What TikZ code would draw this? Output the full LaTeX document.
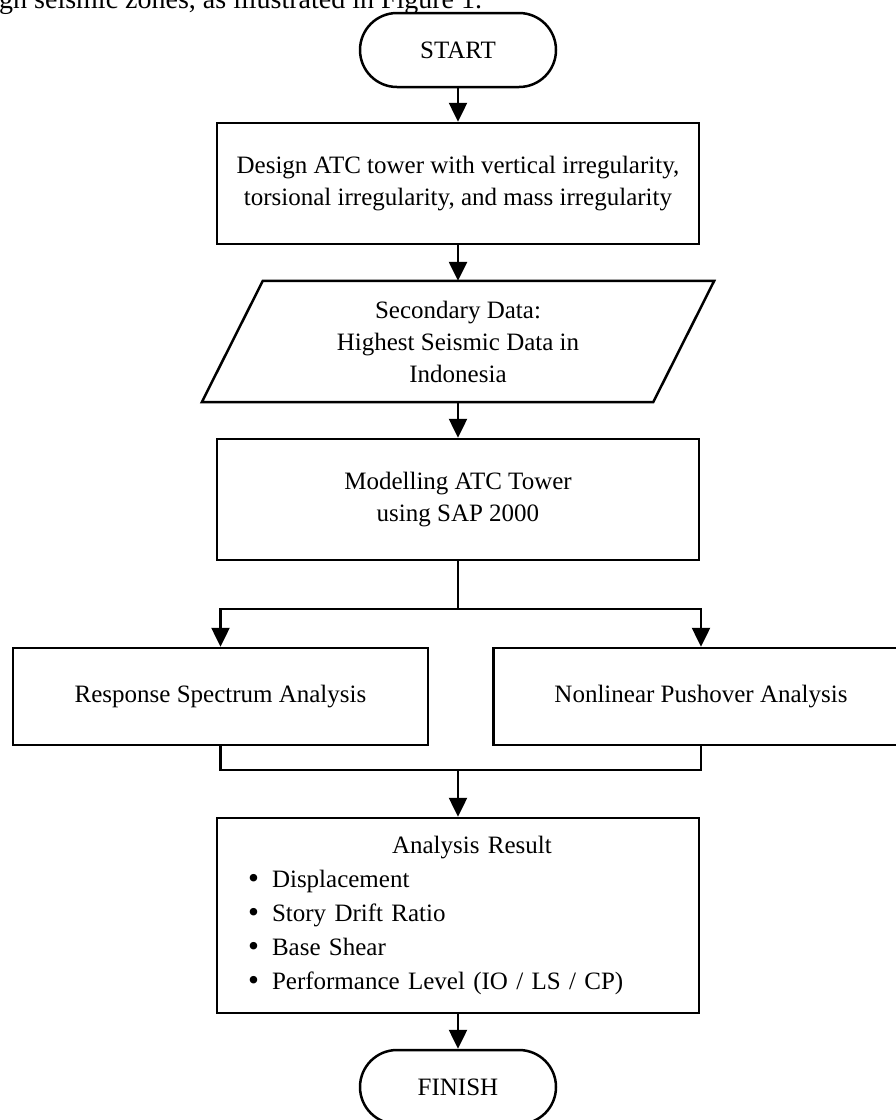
\documentclass[tikz,border=0pt]{standalone}
\usepackage{fontspec}
\setmainfont{Liberation Serif}
\usetikzlibrary{arrows.meta}
\newcommand\diagfont{\fontsize{25}{32}\selectfont}
\newcommand\listfont{\fontsize{25}{34}\selectfont}
\newcommand\bodyfont{\fontsize{28}{34}\selectfont}
\newcommand\bulletitem[1]{\hspace*{-4pt}\makebox[24pt][l]{\raisebox{-0.02em}{\scalebox{1.25}{\textbullet}}}#1}
\tikzset{
  line/.style={line width=2.5pt},
  flow/.style={line, -{Triangle[width=18pt,length=19pt]}},
  terminal/.style={draw, line width=2.5pt, rectangle, rounded corners=37pt,
    minimum width=196pt, minimum height=74pt, inner sep=0pt, font=\diagfont},
  process/.style={draw, line width=2.5pt, rectangle, minimum width=482pt,
    minimum height=121pt, inner sep=0pt, align=center, font=\diagfont},
  inout/.style={rectangle, minimum width=512pt, minimum height=121pt,
    inner sep=0pt, align=center, font=\diagfont},
}
\begin{document}
\begin{tikzpicture}[x=1pt,y=-1pt]
\useasboundingbox (0,0) rectangle (896,1120);

% running text of the page above the chart
\node[anchor=base west, inner sep=0pt, font=\bodyfont] (caption) at (-1,8)
  {gh seismic zones, as illustrated in Figure 1.};

% flowchart blocks
\node[terminal] (start) at (458,50) {START};
\node[process] (design) at (458,183.5)
  {Design ATC tower with vertical irregularity,\\torsional irregularity, and mass irregularity};
\node[inout] (data) at (458,341.5)
  {Secondary Data:\\Highest Seismic Data in\\Indonesia};
\draw[line] ([xshift=61pt]data.north west) -- (data.north east)
  -- ([xshift=-61pt]data.south east) -- (data.south west) -- cycle;
\node[process] (model) at (458,499.5) {Modelling ATC Tower\\using SAP 2000};
\node[process, minimum width=415pt, minimum height=97pt] (rsa) at (220.5,696.5)
  {Response Spectrum Analysis};
\node[process, minimum width=415pt, minimum height=97pt] (npa) at (701,696.5)
  {Nonlinear Pushover Analysis};
\node[process, minimum height=195pt, text width=412pt, inner xsep=35pt,
      align=left, font=\listfont] (result) at (458,915.5)
  {\hspace*{140pt}Analysis Result\\
   \bulletitem{Displacement}\\
   \bulletitem{Story Drift Ratio}\\
   \bulletitem{Base Shear}\\
   \bulletitem{Performance Level (IO / LS / CP)}};
\node[terminal] (finish) at (458,1087) {FINISH};

% connectors
\draw[flow] (start) -- (design);
\draw[flow] (design) -- (data);
\draw[flow] (data) -- (model);
\coordinate (split) at (458,609);
\draw[line] (model) -- (split);
\draw[flow] (split) -| (rsa);
\draw[flow] (split) -| (npa);
\coordinate (join) at (458,770);
\draw[line] (rsa) |- (join);
\draw[line] (npa) |- (join);
\draw[flow] (join) -- (result);
\draw[flow] (result) -- (finish);
\end{tikzpicture}
\end{document}
